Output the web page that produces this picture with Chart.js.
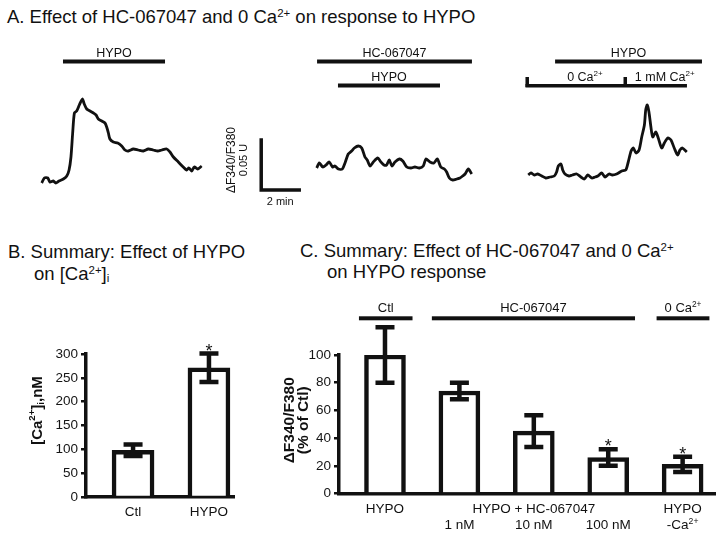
<!DOCTYPE html>
<html>
<head>
<meta charset="utf-8">
<script src="https://cdn.jsdelivr.net/npm/chart.js@4.4.1/dist/chart.umd.min.js"></script>
<style>
body { margin: 0; background: #fff; }
#fig { position: relative; width: 723px; height: 537px; overflow: hidden; font-family: "Liberation Sans", Arial, sans-serif; color: #111; }
.ttl { position: absolute; font-size: 18.5px; line-height: 22px; white-space: nowrap; }
.ttl sup { font-size: 0.62em; vertical-align: baseline; position: relative; top: -0.5em; }
.ttl sub { font-size: 0.62em; vertical-align: baseline; position: relative; top: 0.25em; }
canvas { position: absolute; }
</style>
</head>
<body>
<div id="fig">
  <div class="ttl" style="left:7px;top:6px">A. Effect of HC-067047 and 0 Ca<sup>2+</sup> on response to HYPO</div>
  <div class="ttl" style="left:8px;top:240.5px">B. Summary: Effect of HYPO</div>
  <div class="ttl" style="left:34px;top:262.5px">on [Ca<sup>2+</sup>]<sub>i</sub></div>
  <div class="ttl" style="left:300px;top:239.5px">C. Summary: Effect of HC-067047 and 0 Ca<sup>2+</sup></div>
  <div class="ttl" style="left:327px;top:261px">on HYPO response</div>
  <canvas id="t1" width="185" height="170" style="left:30px;top:40px"></canvas>
  <canvas id="t2" width="262" height="170" style="left:220px;top:40px"></canvas>
  <canvas id="t3" width="205" height="170" style="left:515px;top:40px"></canvas>
  <canvas id="cb" width="240" height="205" style="left:0px;top:330px"></canvas>
  <canvas id="cc" width="473" height="247" style="left:250px;top:290px"></canvas>
</div>
<script>
// ---- traces (time in min, dF340/F380 in ratio units) ----
const t1 = [0, 0.14, 0.32, 0.43, 0.61, 0.74, 0.91, 1.14, 1.32, 1.44, 1.54, 1.63, 1.72, 1.84, 1.98, 2.14, 2.24, 2.37, 2.54, 2.72,
  2.86, 2.98, 3.16, 3.33, 3.42, 3.51, 3.59, 3.77, 4.00, 4.21, 4.38, 4.56, 4.82, 5.08, 5.35, 5.61, 5.87, 6.11, 6.32, 6.58,
  6.75, 6.93, 7.19, 7.45, 7.63, 7.75, 7.89, 8.03, 8.21, 8.42];
const r1 = [0.007, 0.012, 0.012, 0.008, 0.009, 0.007, 0.009, 0.011, 0.014, 0.020, 0.033, 0.057, 0.077, 0.079, 0.085, 0.091, 0.086, 0.081, 0.079, 0.077,
  0.075, 0.071, 0.069, 0.067, 0.063, 0.057, 0.051, 0.048, 0.047, 0.044, 0.040, 0.039, 0.041, 0.040, 0.039, 0.041, 0.040, 0.039, 0.040, 0.041,
  0.038, 0.033, 0.028, 0.023, 0.020, 0.022, 0.019, 0.023, 0.021, 0.024];

const t2 = [0, 0.14, 0.32, 0.49, 0.66, 0.84, 0.96, 1.14, 1.35, 1.49, 1.66, 1.84, 1.98, 2.19, 2.37, 2.54, 2.66, 2.81, 2.98, 3.21,
  3.38, 3.54, 3.68, 3.82, 3.96, 4.12, 4.35, 4.53, 4.74, 4.96, 5.17, 5.40, 5.61, 5.75, 5.96, 6.17, 6.35, 6.53, 6.72, 6.84,
  6.98, 7.16, 7.37, 7.54, 7.68, 7.81, 7.98, 8.16];
const r2 = [0.022, 0.027, 0.023, 0.025, 0.028, 0.023, 0.024, 0.021, 0.021, 0.027, 0.036, 0.039, 0.042, 0.044, 0.042, 0.033, 0.030, 0.024, 0.028, 0.032,
  0.028, 0.025, 0.025, 0.030, 0.024, 0.028, 0.031, 0.029, 0.023, 0.022, 0.023, 0.022, 0.024, 0.031, 0.028, 0.027, 0.031, 0.023, 0.021, 0.018,
  0.012, 0.010, 0.011, 0.012, 0.014, 0.016, 0.021, 0.016];

const t3 = [0, 0.14, 0.32, 0.49, 0.71, 0.92, 1.14, 1.37, 1.49, 1.58, 1.72, 1.81, 1.93, 2.14, 2.32, 2.55, 2.77, 2.95, 3.13, 3.34,
  3.51, 3.66, 3.86, 4.04, 4.25, 4.42, 4.65, 4.92, 5.13, 5.26, 5.41, 5.53, 5.67, 5.83, 5.97, 6.11, 6.18, 6.26, 6.35, 6.46,
  6.55, 6.71, 6.84, 7.02, 7.16, 7.34, 7.51, 7.68, 7.86, 7.98, 8.11, 8.34];
const r3 = [0.015, 0.017, 0.015, 0.016, 0.014, 0.012, 0.013, 0.014, 0.018, 0.024, 0.026, 0.020, 0.016, 0.014, 0.015, 0.016, 0.013, 0.011, 0.015, 0.012,
  0.013, 0.014, 0.017, 0.013, 0.016, 0.015, 0.016, 0.019, 0.020, 0.028, 0.039, 0.042, 0.037, 0.040, 0.053, 0.065, 0.080, 0.085, 0.078, 0.062,
  0.053, 0.058, 0.052, 0.042, 0.047, 0.052, 0.050, 0.042, 0.035, 0.040, 0.042, 0.038];

// treatment periods (min)
const hypo1 = [1.12, 6.49];
const hc2 = [0.02, 8.17];
const hypo2 = [1.12, 6.49];
const hypo3 = [1.41, 9.14];
const ca3 = [-0.07, 5.09, 8.35];
const ca3Labels = ['0 Ca^{2+}', '1 mM Ca^{2+}'];
const ca3LabelAt = [2.98, 7.18];
const scaleBar = { t: -2.92, r: 0, dt: 2, dr: 0.05 };

// ---- panel B ----
const catB = ['Ctl', 'HYPO'];
const meanB = [98, 271];
const errB = [12, 30];
const sigB = ['', '*'];

// ---- panel C ----
const rowC1 = ['HYPO', '', 'HYPO + HC-067047', '', 'HYPO'];
const rowC2 = ['', '1 nM', '10 nM', '100 nM', '-Ca^{2+}'];
const meanC = [100, 74, 45, 26, 21];
const errC = [20, 6, 11.5, 6, 5.5];
const sigC = ['', '', '', '*', '*'];
const groupLabels = ['Ctl', 'HC-067047', '0 Ca^{2+}'];
const groupFrom = [0.65, 1.63, 4.65];
const groupTo = [1.37, 4.36, 5.36];

const FONT = '"Liberation Sans", Arial, sans-serif';
const INK = '#111';

function drawRich(ctx, str, x, y, size, weight, align) {
  const parts = [];
  const re = /\^\{([^}]*)\}|_\{([^}]*)\}/g;
  let last = 0, m;
  while ((m = re.exec(str))) {
    if (m.index > last) parts.push({ s: str.slice(last, m.index), k: 0 });
    parts.push({ s: m[1] !== undefined ? m[1] : m[2], k: m[1] !== undefined ? 1 : -1 });
    last = re.lastIndex;
  }
  if (last < str.length) parts.push({ s: str.slice(last), k: 0 });
  const font = k => `${weight} ${k ? size * 0.64 : size}px ${FONT}`;
  let w = 0;
  parts.forEach(p => { ctx.font = font(p.k); p.w = ctx.measureText(p.s).width; w += p.w; });
  let cx = align === 'center' ? x - w / 2 : align === 'right' ? x - w : x;
  ctx.textAlign = 'left';
  parts.forEach(p => {
    ctx.font = font(p.k);
    ctx.fillText(p.s, cx, y + (p.k === 1 ? -size * 0.38 : p.k === -1 ? size * 0.22 : 0));
    cx += p.w;
  });
}

function drawRotated(ctx, str, cx, cy, size, weight) {
  ctx.save();
  ctx.translate(cx, cy);
  ctx.rotate(-Math.PI / 2);
  ctx.textBaseline = 'middle';
  drawRich(ctx, str, 0, 0, size, weight, 'center');
  ctx.restore();
}

function spanBar(chart, span, y, label) {
  const { ctx, scales: { x } } = chart;
  const a = x.getPixelForValue(span[0]), b = x.getPixelForValue(span[1]);
  ctx.fillRect(a, y - 2, b - a, 4);
  if (label) drawRich(ctx, label, (a + b) / 2, y - 4.5, 12.5, 'normal', 'center');
}

function traceChart(id, t, r, xmin, marks) {
  const canvas = document.getElementById(id);
  return new Chart(canvas, {
    type: 'line',
    data: { datasets: [{ data: t.map((v, i) => ({ x: v, y: r[i] })), borderColor: INK, borderWidth: 2.8, pointRadius: 0, tension: 0.25, clip: false }] },
    options: {
      responsive: false, animation: false, layout: { padding: 0 },
      plugins: { legend: { display: false }, tooltip: { enabled: false } },
      scales: {
        x: { type: 'linear', display: false, min: xmin, max: xmin + canvas.width / 19 },
        y: { type: 'linear', display: false, min: -0.02, max: 0.15 }
      }
    },
    plugins: [{
      id: 'marks' + id,
      afterDraw(chart) {
        const ctx = chart.ctx;
        ctx.save();
        ctx.fillStyle = INK;
        ctx.strokeStyle = INK;
        ctx.textBaseline = 'alphabetic';
        marks(chart, ctx);
        ctx.restore();
      }
    }]
  });
}

traceChart('t1', t1, r1, -0.616, (chart) => {
  spanBar(chart, hypo1, 21.5, 'HYPO');
});

traceChart('t2', t2, r2, -5.089, (chart, ctx) => {
  spanBar(chart, hc2, 21.5, 'HC-067047');
  spanBar(chart, hypo2, 45.5, 'HYPO');
  const x = chart.scales.x, y = chart.scales.y;
  const bx = x.getPixelForValue(scaleBar.t), by = y.getPixelForValue(scaleBar.r);
  const ty = y.getPixelForValue(scaleBar.r + scaleBar.dr), rx = x.getPixelForValue(scaleBar.t + scaleBar.dt);
  ctx.lineWidth = 3.5;
  ctx.lineCap = 'square';
  ctx.beginPath();
  ctx.moveTo(bx, ty); ctx.lineTo(bx, by); ctx.lineTo(rx, by);
  ctx.stroke();
  drawRotated(ctx, '\u0394F340/F380', bx - 30, (ty + by) / 2 - 5, 12, 'normal');
  drawRotated(ctx, '0.05 U', bx - 17, (ty + by) / 2 - 5, 11, 'normal');
  ctx.textBaseline = 'alphabetic';
  drawRich(ctx, '2 min', (bx + rx) / 2, by + 15, 11, 'normal', 'center');
});

traceChart('t3', t3, r3, -0.7, (chart, ctx) => {
  spanBar(chart, hypo3, 21.5, 'HYPO');
  const x = chart.scales.x;
  const a = x.getPixelForValue(ca3[0]), mid = x.getPixelForValue(ca3[1]), b = x.getPixelForValue(ca3[2]);
  ctx.fillRect(a - 1.5, 44, b - a + 1.5, 3.5);
  ctx.fillRect(a - 1.5, 37, 3.5, 10);
  ctx.fillRect(mid - 1.5, 37, 3.5, 10);
  ca3Labels.forEach((l, i) => drawRich(ctx, l, x.getPixelForValue(ca3LabelAt[i]), 41, 12.5, 'normal', 'center'));
});

function errorMarks(means, errs, sigs, extra) {
  return {
    id: 'errs',
    afterDatasetsDraw(chart) {
      const { ctx, scales: { x, y } } = chart;
      ctx.save();
      ctx.strokeStyle = INK;
      ctx.fillStyle = INK;
      ctx.lineWidth = 4.5;
      ctx.textBaseline = 'alphabetic';
      means.forEach((m, i) => {
        const px = x.getPixelForValue(i + 1);
        const top = y.getPixelForValue(m + errs[i]);
        const bot = y.getPixelForValue(m - errs[i]);
        ctx.beginPath();
        ctx.moveTo(px, top); ctx.lineTo(px, bot);
        ctx.moveTo(px - 9.5, top); ctx.lineTo(px + 9.5, top);
        ctx.moveTo(px - 9.5, bot); ctx.lineTo(px + 9.5, bot);
        ctx.stroke();
        if (sigs[i]) drawRich(ctx, sigs[i], px, top + 3, 18, 'normal', 'center');
      });
      extra(chart, ctx, x, y);
      ctx.restore();
    }
  };
}

function axisY(width, max, step) {
  return {
    min: 0, max: max,
    ticks: { stepSize: step, color: '#151515', font: { family: FONT, size: 13.5 }, padding: 3 },
    grid: { drawOnChartArea: false, color: INK, lineWidth: 2.5, tickLength: 5 },
    border: { color: INK, width: 3.5 },
    afterFit: s => { s.width = width; }
  };
}

function axisX(min, max, height) {
  return {
    type: 'linear', min: min, max: max, offset: false,
    ticks: { display: false }, grid: { display: false },
    border: { color: INK, width: 3.5 },
    afterFit: s => { s.height = height; }
  };
}

new Chart(document.getElementById('cb'), {
  type: 'bar',
  data: { datasets: [{ data: meanB.map((v, i) => ({ x: i + 1, y: v })), backgroundColor: '#fff', borderColor: INK, borderWidth: 4.5, barThickness: 42 }] },
  options: {
    responsive: false, animation: false,
    layout: { padding: { top: 24, right: 6, left: 0, bottom: 0 } },
    plugins: { legend: { display: false }, tooltip: { enabled: false } },
    scales: { x: axisX(0.38, 2.33, 38), y: axisY(86, 300, 50) }
  },
  plugins: [errorMarks(meanB, errB, sigB, (chart, ctx, x, y) => {
    const base = y.getPixelForValue(0);
    catB.forEach((c, i) => drawRich(ctx, c, x.getPixelForValue(i + 1), base + 18.5, 13.5, 'normal', 'center'));
    const area = chart.chartArea;
    drawRotated(ctx, '[Ca^{2+}]_{i},nM', area.left - 48, (area.top + area.bottom) / 2 - 15, 15, 'bold');
  })]
});

new Chart(document.getElementById('cc'), {
  type: 'bar',
  data: { datasets: [{ data: meanC.map((v, i) => ({ x: i + 1, y: v })), backgroundColor: '#fff', borderColor: INK, borderWidth: 4.5, barThickness: 41 }] },
  options: {
    responsive: false, animation: false,
    layout: { padding: { top: 65, right: 8, left: 0, bottom: 0 } },
    plugins: { legend: { display: false }, tooltip: { enabled: false } },
    scales: { x: axisX(0.382, 5.435, 43.5), y: axisY(89, 100, 20) }
  },
  plugins: [errorMarks(meanC, errC, sigC, (chart, ctx, x, y) => {
    const base = y.getPixelForValue(0);
    rowC1.forEach((l, i) => { if (l) drawRich(ctx, l, x.getPixelForValue(i + 1), base + 19.5, 13.5, 'normal', 'center'); });
    rowC2.forEach((l, i) => { if (l) drawRich(ctx, l, x.getPixelForValue(i + 1), base + 35.5, 13.5, 'normal', 'center'); });
    const area = chart.chartArea;
    const gy = area.top - 36.7;
    groupLabels.forEach((l, i) => {
      const a = x.getPixelForValue(groupFrom[i]), b = x.getPixelForValue(groupTo[i]);
      ctx.fillRect(a, gy - 2, b - a, 4);
      drawRich(ctx, l, (a + b) / 2, gy - 6, 13, 'normal', 'center');
    });
    const cy = (area.top + area.bottom) / 2 - 4;
    drawRotated(ctx, '\u0394F340/F380', area.left - 49, cy, 15.5, 'bold');
    drawRotated(ctx, '(% of Ctl)', area.left - 35, cy, 15.5, 'bold');
  })]
});
</script>
</body>
</html>
